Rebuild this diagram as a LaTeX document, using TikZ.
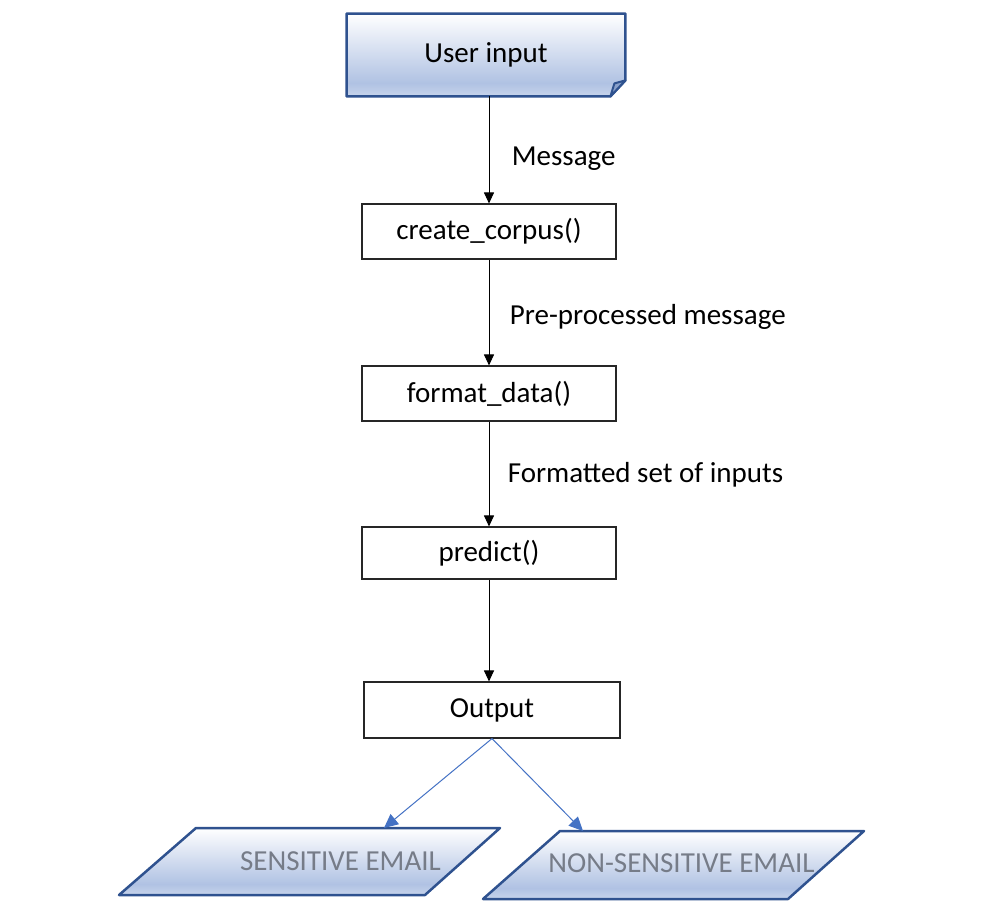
\documentclass[tikz,border=0pt]{standalone}
\usepackage{fontspec}
\setmainfont{Carlito}
\usetikzlibrary{arrows.meta}
\usetikzlibrary{backgrounds}

\definecolor{edgeblue}{RGB}{47,82,143}
\definecolor{fillblue}{RGB}{176,194,227}
\definecolor{arrowblue}{RGB}{68,114,196}
\definecolor{textgray}{RGB}{118,124,136}
\pgfdeclareverticalshading{officeblue}{100bp}{color(0bp)=(fillblue!60); color(25bp)=(fillblue!70); color(33bp)=(fillblue); color(75bp)=(white); color(100bp)=(white)}

\begin{document}
\begin{tikzpicture}[x=1pt,y=-1pt,thick,
  font=\fontsize{29}{34}\selectfont,
  main node/.style={rectangle,draw=black!85,line width=1.1pt,fill=white,minimum width=254,minimum height=55,inner sep=0pt},
  email text/.style={text=textgray,inner sep=0pt},
  blue box/.style={shading=officeblue,draw=edgeblue,line width=2.5pt,line join=round},
  flow/.style={-{Triangle[length=11pt,width=10pt]},line width=1pt},
  split/.style={-{Triangle[length=14pt,width=13pt]},draw=arrowblue,line width=1pt}]

	      \useasboundingbox (0,0) rectangle (994,918);

	      \node[minimum width=278,minimum height=82,inner sep=0pt] at (486,55) (user) {User input};
	      \node[main node] at (489,231.5) (corpus) {create\_corpus()};
	      \node[main node] at (489,393.5) (format) {format\_data()};
	      \node[main node,minimum height=52] at (489,553) (predict) {predict()};
	      \node[main node,minimum width=256,minimum height=56] at (492,710) (output) {Output};
	      \node[email text] at (340.5,861) (sensitive) {SENSITIVE EMAIL};
	      \node[email text] at (681.5,863) (nonsensitive) {NON-SENSITIVE EMAIL};
	      \coordinate (sensitive top) at (384,828);
	      \coordinate (nonsensitive top) at (583,831);

	      % shaded outlines behind the texts
	      \begin{scope}[on background layer]
	        \shade[blue box] (user.north west) -- (user.north east) -- ([yshift=16]user.south east)
	          -- ([xshift=-15]user.south east) -- (user.south west) -- cycle;
	        \shade[blue box] (196,828) -- (500,828) -- (425,895) -- (119,895) -- cycle;
	        \shade[blue box] (560,831) -- (864,831) -- (788,899) -- (483,899) -- cycle;
	      \end{scope}
	      \filldraw[fill=fillblue!70!edgeblue,draw=edgeblue,line width=2pt,line join=round]
	        ([xshift=-15]user.south east) -- ([xshift=-11,yshift=13]user.south east) -- ([yshift=16]user.south east) -- cycle;

	      \draw[flow] (user.south -| corpus.north) -- node[right,xshift=19,yshift=-9] {Message} (corpus.north);
	      \draw[flow] (corpus.south) -- node[right,xshift=17,yshift=-4] {Pre-processed message} (format.north);
	      \draw[flow] (format.south) -- node[right,xshift=15,yshift=-1] {Formatted set of inputs} (predict.north);
	      \draw[flow] (predict.south) -- (output.north -| predict.south);

	      \draw[split] (output.south) -- (sensitive top);
	      \draw[split] (output.south) -- (nonsensitive top);

\end{tikzpicture}
\end{document}
